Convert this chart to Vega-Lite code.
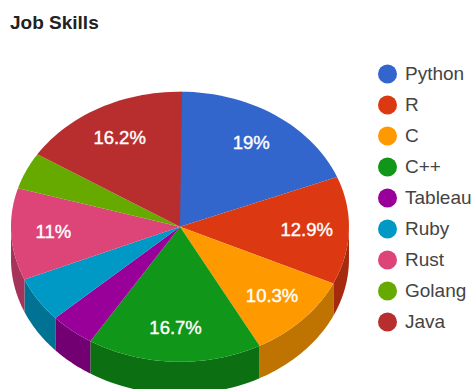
{
  "$schema": "https://vega.github.io/schema/vega-lite/v6.json",
  "width": 472,
  "height": 389,
  "padding": 0,
  "autosize": "none",
  "background": "white",
  "title": {
    "text": "Job Skills",
    "anchor": "start",
    "frame": "group",
    "offset": -33,
    "dx": 10,
    "font": "Liberation Sans",
    "fontSize": 19,
    "fontWeight": "bold",
    "color": "#222222"
  },
  "config": {"view": {"stroke": null}},
  "data": {
    "values": [
      {"rank": 1, "skill": "Python", "share": 0.19},
      {"rank": 2, "skill": "R", "share": 0.129},
      {"rank": 3, "skill": "C", "share": 0.103},
      {"rank": 4, "skill": "C++", "share": 0.167},
      {"rank": 5, "skill": "Tableau", "share": 0.043},
      {"rank": 6, "skill": "Ruby", "share": 0.054},
      {"rank": 7, "skill": "Rust", "share": 0.11},
      {"rank": 8, "skill": "Golang", "share": 0.044},
      {"rank": 9, "skill": "Java", "share": 0.162}
    ]
  },
  "transform": [
    {"window": [{"op": "sum", "field": "share", "as": "cumEnd"}], "sort": [{"field": "rank"}]},
    {"calculate": "2 * PI * (datum.cumEnd - datum.share)", "as": "a0"},
    {"calculate": "2 * PI * datum.cumEnd", "as": "a1"},
    {"calculate": "(datum.a0 + datum.a1) / 2", "as": "mid"}
  ],
  "layer": [
    {
      "description": "Front wall of the tilted pie: the part of each slice's rim facing the viewer",
      "transform": [
        {"calculate": "max(datum.a0, PI / 2)", "as": "lo"},
        {"calculate": "min(datum.a1, 3 * PI / 2)", "as": "hi"},
        {"filter": "datum.hi > datum.lo"},
        {"calculate": "sequence(0, 31)", "as": "wallStep"},
        {"flatten": ["wallStep"]},
        {"calculate": "datum.lo + (datum.hi - datum.lo) * datum.wallStep / 30", "as": "wallAngle"},
        {"calculate": "sin(datum.wallAngle)", "as": "wx"},
        {"calculate": "cos(datum.wallAngle)", "as": "wy"},
        {"calculate": "datum.wy - 0.24", "as": "wyBase"}
      ],
      "mark": {"type": "area"},
      "encoding": {
        "x": {"field": "wx", "type": "quantitative", "scale": {"domain": [-1.065, 1.728]}, "axis": null},
        "y": {"field": "wy", "type": "quantitative", "scale": {"domain": [-1.202, 1.679]}, "axis": null},
        "y2": {"field": "wyBase"},
        "fill": {
          "field": "skill",
          "type": "nominal",
          "legend": null,
          "scale": {
            "domain": ["Python", "R", "C", "C++", "Tableau", "Ruby", "Rust", "Golang", "Java"],
            "range": ["#264d99", "#a62b0e", "#bf7300", "#0c7012", "#730073", "#007395", "#a63359", "#4d8000", "#8a2222"]
          }
        }
      }
    },
    {
      "description": "Top face: one closed wedge per skill, squashed into an ellipse by the x and y scales",
      "transform": [
        {"calculate": "sequence(-1, 31)", "as": "step"},
        {"flatten": ["step"]},
        {"calculate": "datum.a0 + (datum.a1 - datum.a0) * datum.step / 30", "as": "angle"},
        {"calculate": "datum.step < 0 ? 0 : sin(datum.angle)", "as": "px"},
        {"calculate": "datum.step < 0 ? 0 : cos(datum.angle)", "as": "py"}
      ],
      "mark": {"type": "line", "interpolate": "linear-closed", "strokeWidth": 0, "filled": true},
      "encoding": {
        "x": {"field": "px", "type": "quantitative", "scale": {"domain": [-1.065, 1.728]}, "axis": null},
        "y": {"field": "py", "type": "quantitative", "scale": {"domain": [-1.202, 1.679]}, "axis": null},
        "order": {"field": "step", "type": "quantitative"},
        "fill": {
          "field": "skill",
          "type": "nominal",
          "scale": {
            "domain": ["Python", "R", "C", "C++", "Tableau", "Ruby", "Rust", "Golang", "Java"],
            "range": ["#3366cc", "#dc3912", "#ff9900", "#109618", "#990099", "#0099c6", "#dd4477", "#66aa00", "#b82e2e"]
          },
          "legend": {
            "title": null,
            "orient": "none",
            "legendX": 378,
            "legendY": 64,
            "symbolType": "circle",
            "symbolSize": 361,
            "symbolStrokeWidth": 0,
            "symbolOpacity": 1,
            "labelFont": "Liberation Sans",
            "labelFontSize": 19,
            "labelColor": "#444444",
            "labelOffset": 8,
            "rowPadding": 11,
            "clipHeight": 20
          }
        }
      }
    },
    {
      "description": "Percentage labels on the slices of at least ten percent",
      "transform": [
        {"filter": "datum.share >= 0.1"},
        {"calculate": "0.75 * sin(datum.mid)", "as": "tx"},
        {"calculate": "0.75 * cos(datum.mid)", "as": "ty"}
      ],
      "mark": {"type": "text", "font": "Liberation Sans", "fontSize": 18.5, "color": "#ffffff", "stroke": "#ffffff", "strokeWidth": 0.4, "align": "center", "baseline": "middle"},
      "encoding": {
        "x": {"field": "tx", "type": "quantitative", "scale": {"domain": [-1.065, 1.728]}, "axis": null},
        "y": {"field": "ty", "type": "quantitative", "scale": {"domain": [-1.202, 1.679]}, "axis": null},
        "text": {"field": "share", "type": "quantitative", "format": ".1~%"}
      }
    }
  ],
  "resolve": {"scale": {"fill": "independent"}}
}
